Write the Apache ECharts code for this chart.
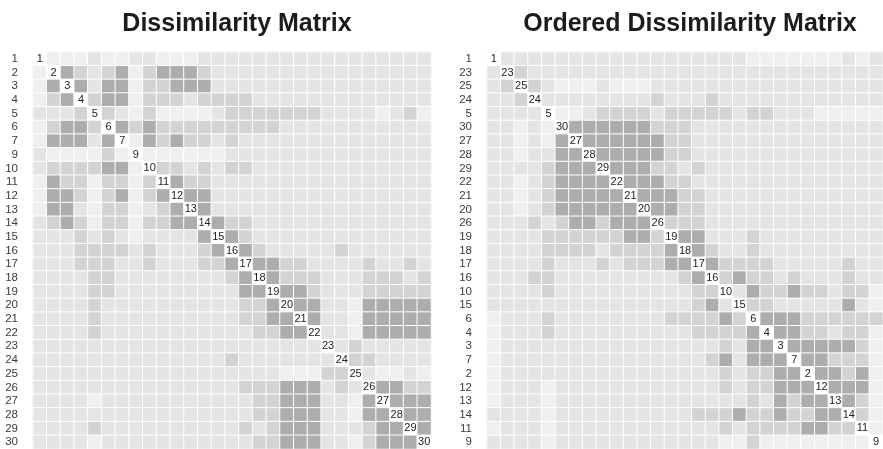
<!DOCTYPE html>
<html>
<head>
<meta charset="utf-8">
<script src="https://cdn.jsdelivr.net/npm/echarts@6/dist/echarts.min.js"></script>
<style>
html,body{margin:0;padding:0;background:#ffffff;}
#chart{width:883px;height:449px;}
</style>
</head>
<body>
<div id="chart"></div>
<script>
// Object labels in original order (object 8 absent)
const objects = ['1','2','3','4','5','6','7','9','10','11','12','13','14','15','16','17','18','19','20','21','22','23','24','25','26','27','28','29','30'];

// Seriated order used in the right-hand plot
const orderedObjects = ['1','23','25','24','5','30','27','28','29','22','21','20','26','19','18','17','16','10','15','6','4','3','7','2','12','13','14','11','9'];

// Dissimilarity level (1 = most similar/dark ... 5 = most dissimilar/light), lower triangle, row i vs columns 0..i-1
const lowerTriangle = [
  [],
  [5],
  [5,1],
  [5,3,1],
  [4,4,4,3],
  [5,3,1,1,3],
  [5,1,1,1,4,1],
  [4,5,5,5,5,3,5],
  [4,3,3,3,3,1,1,5],
  [5,1,3,3,5,3,3,5,3],
  [5,1,1,3,5,3,1,5,3,1],
  [5,1,1,4,5,3,3,5,4,3,1],
  [4,3,1,3,5,3,3,5,3,3,1,1],
  [4,4,4,3,4,3,4,5,4,4,4,4,1],
  [4,4,4,3,3,3,3,4,3,4,4,4,3,1],
  [4,4,4,3,3,3,4,4,3,4,4,4,3,3,1],
  [4,4,4,4,3,3,4,4,4,4,4,4,4,4,3,1],
  [4,4,4,4,3,3,4,4,4,4,4,4,4,4,4,1,1],
  [4,4,4,4,3,4,4,4,4,4,4,4,4,4,4,3,3,1],
  [4,4,4,4,3,4,4,4,4,4,4,4,4,4,4,3,3,1,1],
  [4,4,4,4,3,4,4,4,4,4,4,4,4,4,4,4,3,3,1,1],
  [4,4,4,4,4,4,4,4,4,4,4,4,4,4,4,4,4,4,4,4,4],
  [4,4,4,4,4,4,4,4,4,4,4,4,4,4,3,4,4,4,4,4,4,4],
  [4,4,4,4,4,4,4,4,4,4,4,4,4,4,4,4,4,4,5,5,5,3,3],
  [4,4,4,4,4,4,4,4,4,4,4,4,4,4,4,3,3,3,1,1,1,4,3,4],
  [4,4,4,4,5,4,4,4,4,4,4,4,4,4,4,4,3,3,1,1,1,4,4,5,1],
  [4,4,4,4,4,4,4,4,4,4,4,4,4,4,4,4,3,3,1,1,1,4,4,5,1,1],
  [4,4,4,4,3,4,4,4,4,4,4,4,4,4,4,3,4,3,1,1,1,4,4,4,3,1,1],
  [4,4,4,4,5,4,4,4,4,4,4,4,4,4,4,4,3,3,1,1,1,4,4,5,3,1,1,1]
];

const titles = ['Dissimilarity Matrix', 'Ordered Dissimilarity Matrix'];

// Styling (kept apart from the data)
const levelColors = ['#ffffff', '#adadad', '#c2c2c2', '#d3d3d3', '#e4e4e4', '#efefef'];
const FONT = 'Liberation Sans, Arial, Helvetica, sans-serif';

const n = objects.length;
function diss(i, j) {
  if (i === j) return 0;
  return i > j ? lowerTriangle[i][j] : lowerTriangle[j][i];
}

function buildData(labels) {
  const idx = labels.map(l => objects.indexOf(l));
  const out = [];
  for (let r = 0; r < n; r++) {
    for (let c = 0; c < n; c++) {
      out.push([c, r, diss(idx[r], idx[c])]);
    }
  }
  return out;
}

const panels = [objects, orderedObjects];
const gridPos = [
  {left: 33, top: 52, width: 398, height: 397},
  {left: 487, top: 52, width: 396, height: 397}
];
const titleCenters = [232, 685];

const option = {
  animation: false,
  backgroundColor: '#ffffff',
  title: titles.map((t, k) => ({
    text: t,
    left: titleCenters[k],
    top: 7,
    textAlign: 'center',
    textStyle: {fontFamily: FONT, fontSize: 25, fontWeight: 'bold', color: '#1c1c1c'}
  })),
  grid: gridPos.map(g => Object.assign({show: true, borderColor: '#d2d2d2', borderWidth: 1, backgroundColor: '#ffffff'}, g)),
  xAxis: panels.map((labels, k) => ({
    type: 'category', gridIndex: k, data: labels,
    axisLine: {show: false}, axisTick: {show: false}, axisLabel: {show: false}, splitLine: {show: false}
  })),
  yAxis: panels.map((labels, k) => ({
    type: 'category', gridIndex: k, data: labels, inverse: true,
    axisLine: {show: false}, axisTick: {show: false}, splitLine: {show: false},
    axisLabel: {interval: 0, fontFamily: FONT, fontSize: 11.5, color: '#3a3a3a', margin: 15}
  })),
  visualMap: {
    type: 'piecewise', show: false, seriesIndex: [0, 1], dimension: 2,
    pieces: levelColors.map((c, v) => ({value: v, color: c}))
  },
  series: panels.map((labels, k) => ({
    type: 'heatmap', xAxisIndex: k, yAxisIndex: k,
    data: buildData(labels),
    itemStyle: {borderColor: '#ffffff', borderWidth: 1},
    emphasis: {disabled: true},
    label: {
      show: true, fontFamily: FONT, fontSize: 11, color: '#222222',
      formatter: p => (p.value[0] === p.value[1] ? labels[p.value[0]] : '')
    }
  }))
};

const chart = echarts.init(document.getElementById('chart'), null, {renderer: 'canvas'});
chart.setOption(option);
</script>
</body>
</html>
